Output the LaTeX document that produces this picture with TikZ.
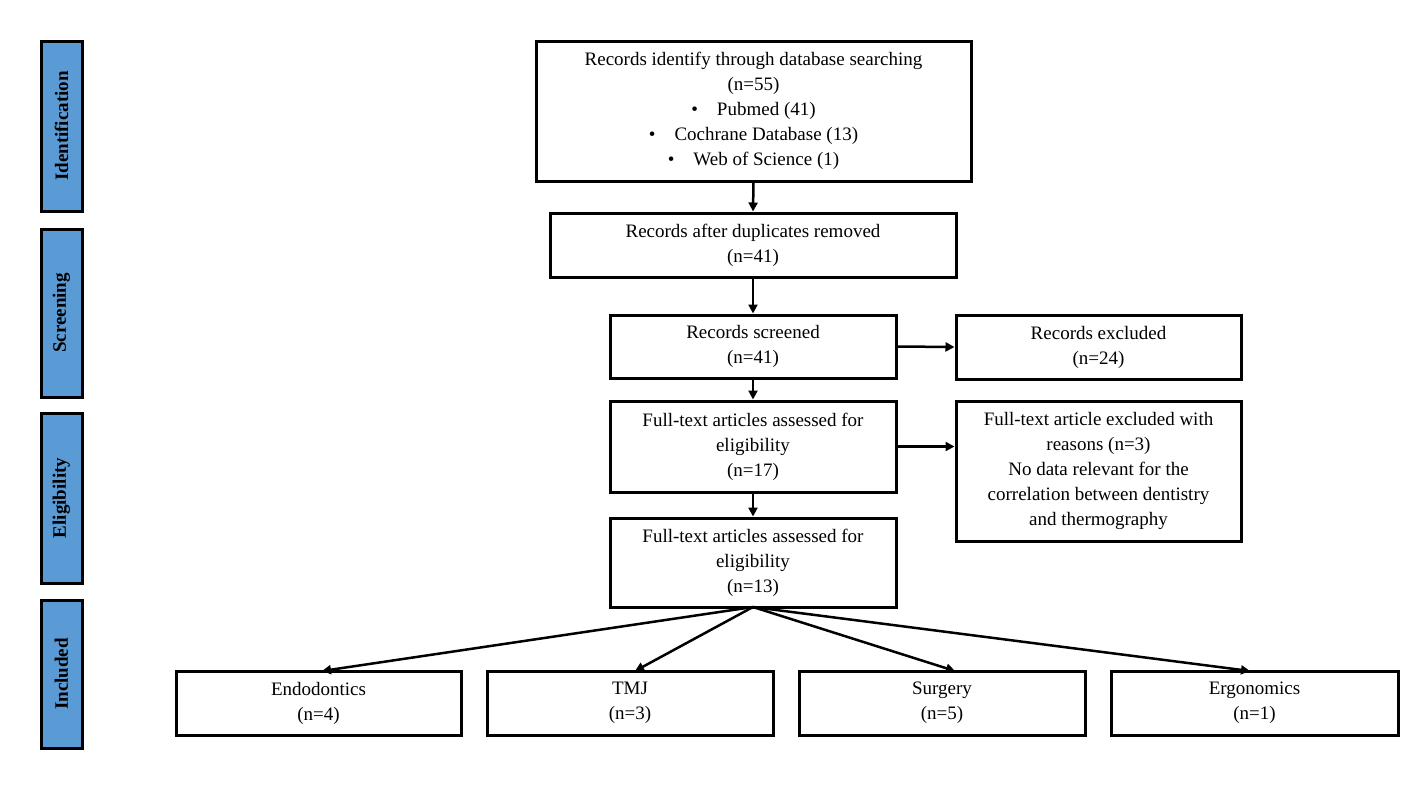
\documentclass[tikz,border=0pt]{standalone}
\usepackage{fontspec}
\setmainfont{Liberation Serif}
\usetikzlibrary{arrows.meta}
\begin{document}
\begin{tikzpicture}[x=1pt,y=-1pt,
  box/.style={draw=black,line width=3pt,font=\fontsize{19}{25}\selectfont,align=center,inner sep=0pt},
  side/.style={draw=black,line width=3pt,fill=sidefill,inner sep=0pt},
  arr/.style={line width=2.5pt,-{Triangle[length=9pt,width=9pt]}}]
\definecolor{sidefill}{HTML}{5B9BD5}
\useasboundingbox (0,0) rectangle (1422,785);
\newcommand{\bx}[6]{\node[box,minimum width=#4-#2,minimum height=#5-#3] (#1) at ({(#2+#4)/2},{(#3+#5)/2}) {#6};}
\newcommand{\sd}[4]{\node[side,minimum width=41,minimum height=#3-#2] (#1) at (61.5,{(#2+#3)/2}) {}; \node[rotate=90,font=\fontsize{19}{22}\selectfont\bfseries] at (#1.center) {#4};}
\sd{s1}{41}{211}{Identification}
\sd{s2}{229}{397}{Screening}
\sd{s3}{413}{583}{Eligibility}
\sd{s4}{600}{748}{Included}
\bx{a}{536}{41}{971}{181}{Records identify through database searching\\(n=55)\\\textbullet\quad Pubmed (41)\\\textbullet\quad Cochrane Database (13)\\\textbullet\quad Web of Science (1)}
\bx{b}{550}{213}{956}{277}{Records after duplicates removed\\(n=41)}
\bx{c}{610}{315}{896}{378}{Records screened\\(n=41)}
\bx{d}{956}{315}{1241}{379}{Records excluded\\(n=24)}
\bx{e}{610}{401}{896}{492}{Full-text articles assessed for\\eligibility\\(n=17)}
\bx{f}{956}{401}{1241}{541}{Full-text article excluded with\\reasons (n=3)\\No data relevant for the\\correlation between dentistry\\and thermography}
\bx{g}{610}{518}{896}{607}{Full-text articles assessed for\\eligibility\\(n=13)}
\bx{h1}{176}{671}{461}{735}{Endodontics\\(n=4)}
\bx{h2}{487}{671}{773}{735}{TMJ\\(n=3)}
\bx{h3}{799}{671}{1085}{735}{Surgery\\(n=5)}
\bx{h4}{1111}{671}{1398}{735}{Ergonomics\\(n=1)}
\draw[arr] (a.south) -- (b.north);
\draw[arr] (b.south) -- (c.north);
\draw[arr] (c.south) -- (e.north);
\draw[arr] (e.south) -- (g.north);
\draw[arr] (c.east) -- (d.west);
\draw[arr] (e.east) -- (e.east -| f.west);
\coordinate (gs) at (753,607);
\draw[arr] (gs) -- (322,671);
\draw[arr] (gs) -- (635,671);
\draw[arr] (gs) -- (955,671);
\draw[arr] (gs) -- (1250,671);
\end{tikzpicture}
\end{document}
